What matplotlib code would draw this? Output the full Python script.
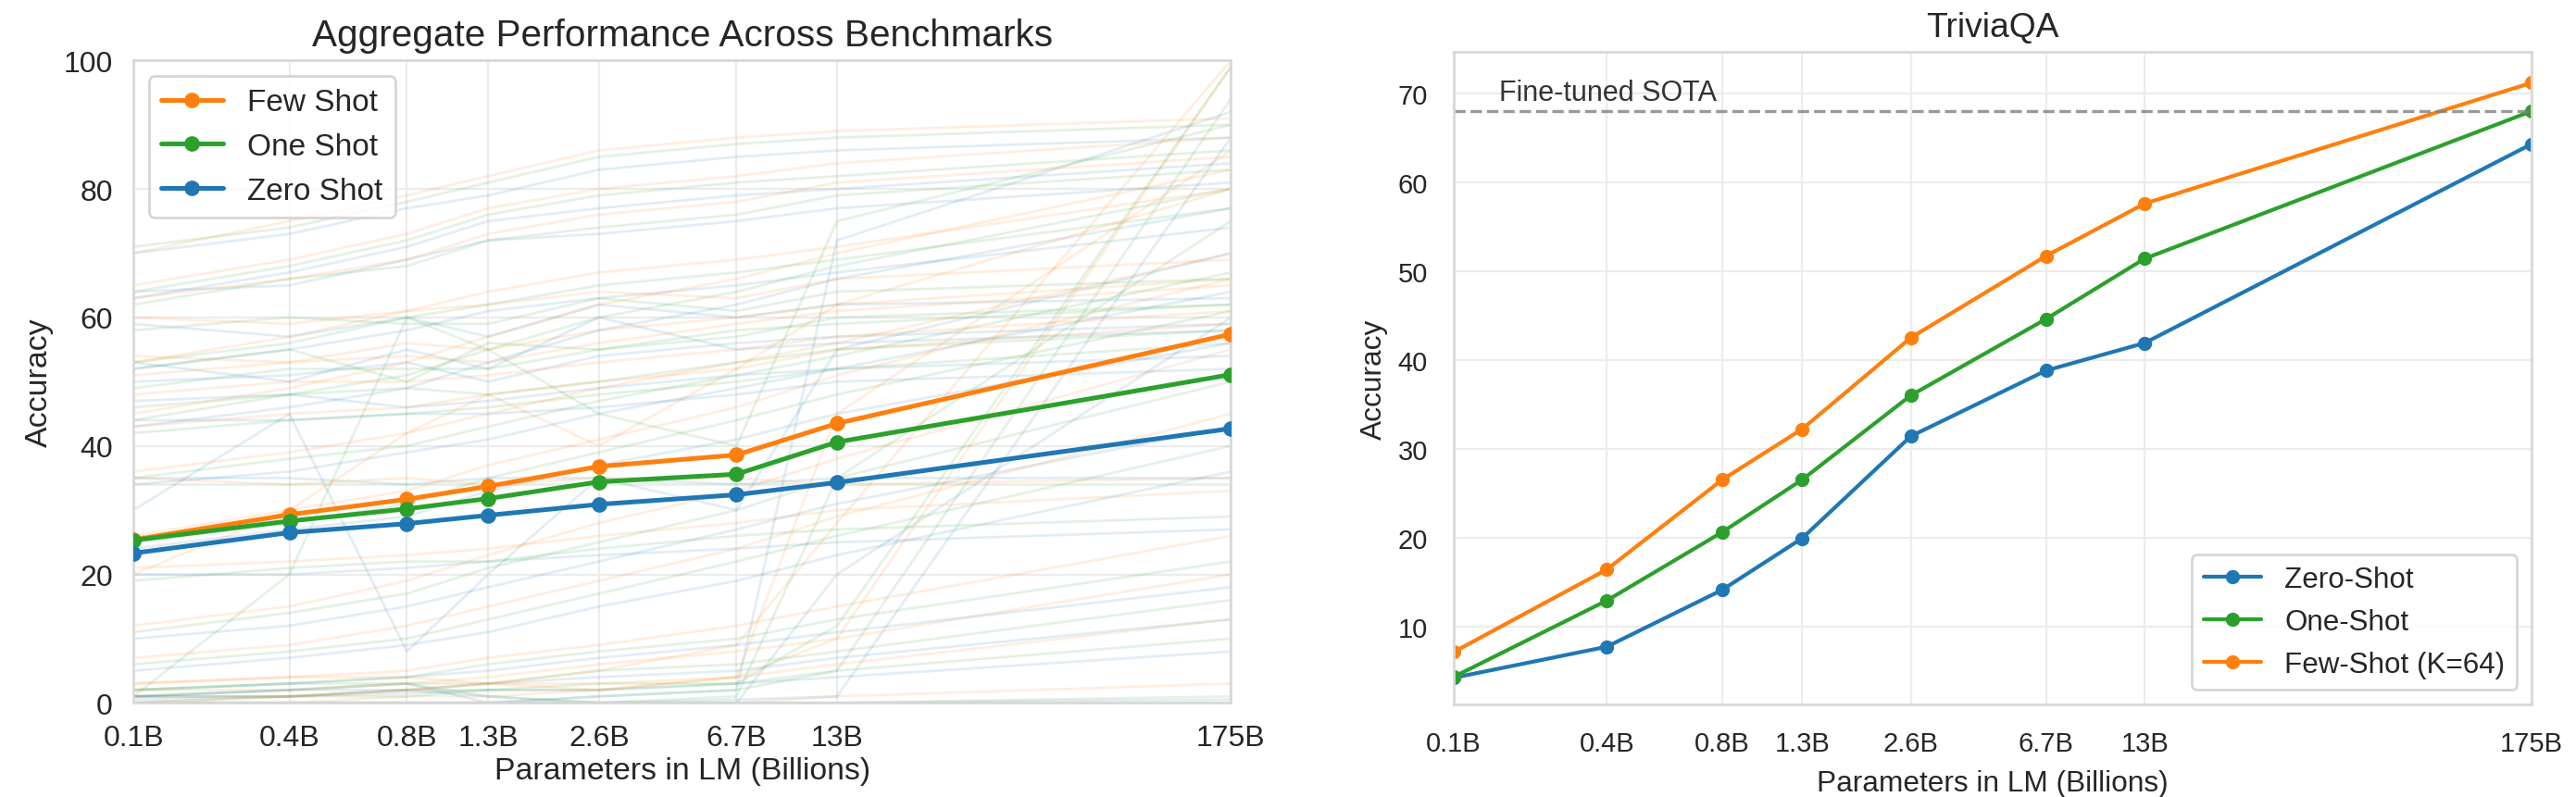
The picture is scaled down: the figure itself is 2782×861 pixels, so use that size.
import matplotlib
matplotlib.use('Agg')
import matplotlib.pyplot as plt
from matplotlib.ticker import NullLocator
import seaborn as sns

sns.set_theme(style='whitegrid')
plt.rcParams['font.family'] = ['Liberation Sans', 'DejaVu Sans']

# model sizes (billions) and their labels
params = [0.125, 0.35, 0.76, 1.3, 2.7, 6.7, 13, 175]
param_labels = ['0.1B', '0.4B', '0.8B', '1.3B', '2.6B', '6.7B', '13B', '175B']

# aggregate (left)
agg_few = [25.4, 29.3, 31.7, 33.7, 36.8, 38.6, 43.5, 57.4]
agg_one = [25.3, 28.3, 30.2, 31.8, 34.4, 35.6, 40.6, 51.1]
agg_zero = [23.3, 26.5, 27.9, 29.2, 30.9, 32.4, 34.3, 42.7]

# per-benchmark curves drawn faintly behind the aggregate
bench_zero = [
    [70, 73, 77, 79, 83, 85, 86, 88],
    [63, 67, 71, 75, 77, 79, 80, 84],
    [64, 65, 69, 72, 73, 75, 77, 81],
    [52, 55, 58, 61, 63, 65, 67, 74],
    [43, 46, 49, 53, 58, 62, 66, 77],
    [34, 36, 39, 41, 45, 49, 52, 64],
    [50, 51, 53, 50, 54, 56, 57, 59],
    [59, 57, 60, 57, 62, 60, 62, 63],
    [35, 35, 34, 35, 35, 34, 35, 35],
    [53, 50, 55, 52, 60, 55, 56, 58],
    [47, 48, 46, 47, 49, 51, 52, 54],
    [44, 44, 45, 45, 46, 48, 50, 52],
    [24, 27, 29, 33, 37, 41, 45, 56],
    [20, 20, 21, 22, 23, 24, 25, 27],
    [10, 12, 15, 18, 22, 27, 31, 43],
    [5, 7, 9, 11, 15, 19, 23, 36],
    [2, 3, 4, 5, 7, 9, 11, 18],
    [1, 2, 2, 3, 4, 5, 7, 13],
    [0.5, 1, 1.5, 2, 2, 3, 4, 8],
    [0, 0, 0, 0, 0, 0, 0, 0.5],
    [0, 0, 0, 0, 0, 0.5, 1, 88],
    [1, 1, 2, 1, 0, 0, 20, 60],
    [30, 45, 8, 20, 35, 30, 55, 70],
    [1, 2, 3, 0, 1, 2, 72, 92],
]
bench_one = [
    [71, 74, 78, 81, 85, 87, 88, 90],
    [64, 68, 72, 76, 79, 81, 82, 86],
    [62, 66, 68, 72, 74, 76, 79, 83],
    [53, 56, 60, 62, 65, 67, 69, 77],
    [44, 48, 51, 55, 60, 64, 68, 80],
    [35, 38, 40, 43, 47, 51, 54, 67],
    [49, 52, 52, 52, 55, 58, 59, 62],
    [58, 60, 59, 59, 63, 61, 64, 66],
    [34, 34, 34, 34, 34, 34, 34, 34],
    [52, 55, 50, 56, 55, 57, 60, 62],
    [46, 48, 49, 48, 50, 53, 55, 58],
    [42, 44, 45, 46, 48, 50, 52, 56],
    [25, 28, 31, 35, 39, 44, 48, 61],
    [19, 21, 22, 22, 24, 26, 27, 29],
    [11, 14, 17, 21, 25, 30, 35, 50],
    [6, 8, 10, 13, 17, 22, 26, 40],
    [2, 3, 4, 6, 8, 10, 13, 22],
    [1, 2, 3, 3, 5, 6, 8, 16],
    [1, 1, 2, 2, 3, 3, 5, 10],
    [0, 0, 0, 0, 0, 0, 0, 1],
    [0, 0, 0, 0, 1, 2, 5, 94],
    [2, 3, 3, 1, 0, 1, 35, 75],
    [1, 20, 60, 55, 45, 40, 75, 90],
    [0, 1, 1, 2, 2, 3, 12, 99],
]
bench_few = [
    [70, 75, 79, 82, 86, 88, 89, 91],
    [65, 69, 73, 77, 80, 82, 84, 88],
    [63, 66, 69, 73, 76, 78, 81, 85],
    [53, 57, 61, 64, 67, 69, 71, 80],
    [45, 49, 53, 57, 62, 66, 70, 83],
    [36, 39, 42, 45, 49, 53, 56, 70],
    [51, 53, 54, 53, 56, 59, 61, 65],
    [60, 59, 61, 62, 64, 63, 66, 69],
    [35, 34, 35, 34, 35, 35, 34, 35],
    [54, 53, 56, 55, 58, 60, 62, 66],
    [48, 50, 50, 51, 53, 55, 57, 61],
    [43, 45, 46, 48, 50, 52, 55, 59],
    [26, 30, 33, 37, 41, 46, 51, 66],
    [21, 22, 23, 24, 26, 28, 30, 33],
    [12, 15, 19, 23, 28, 33, 38, 55],
    [7, 9, 12, 15, 19, 24, 29, 45],
    [3, 4, 5, 7, 9, 12, 15, 26],
    [2, 2, 3, 4, 6, 8, 10, 20],
    [1, 1, 2, 3, 3, 4, 6, 13],
    [0, 0, 0, 0, 0, 0, 1, 3],
    [0, 0, 1, 1, 2, 4, 10, 99],
    [3, 4, 4, 3, 2, 4, 45, 86],
    [20, 30, 42, 48, 40, 52, 62, 80],
    [0, 1, 2, 3, 5, 9, 28, 100],
]

# TriviaQA (right)
tqa_zero = [4.2, 7.7, 14.1, 19.9, 31.4, 38.8, 41.9, 64.3]
tqa_one = [4.3, 12.9, 20.6, 26.5, 36.0, 44.6, 51.4, 68.0]
tqa_few = [7.1, 16.4, 26.5, 32.2, 42.5, 51.7, 57.6, 71.2]
sota = 68.0

BLUE, ORANGE, GREEN = '#1f77b4', '#ff7f0e', '#2ca02c'

fig = plt.figure(figsize=(13.91, 4.31), dpi=200)
ax1 = fig.add_axes([0.0518, 0.118, 0.426, 0.805])
ax2 = fig.add_axes([0.5643, 0.116, 0.4184, 0.818])

for ax in (ax1, ax2):
    ax.grid(True, color='#ececec', lw=0.8)
    for s in ax.spines.values():
        s.set_color('#d8d8d8')
        s.set_linewidth(1.0)

# ---- left panel ----
for rows, col in ((bench_zero, BLUE), (bench_one, GREEN), (bench_few, ORANGE)):
    for r in rows:
        ax1.plot(params, r, color=col, alpha=0.13, lw=1.0, zorder=1)

ax1.plot(params, agg_few, '-o', color=ORANGE, lw=1.8, ms=5, label='Few Shot', zorder=3)
ax1.plot(params, agg_one, '-o', color=GREEN, lw=1.8, ms=5, label='One Shot', zorder=3)
ax1.plot(params, agg_zero, '-o', color=BLUE, lw=1.8, ms=5, label='Zero Shot', zorder=3)

ax1.set_xscale('log')
ax1.set_xlim(params[0], params[-1])
ax1.set_ylim(0, 100)
ax1.set_xticks(params)
ax1.set_xticklabels(param_labels)
ax1.xaxis.set_minor_locator(NullLocator())
ax1.tick_params(axis='both', labelsize=11.5, pad=2)
ax1.set_xlabel('Parameters in LM (Billions)', fontsize=12.2, labelpad=2)
ax1.set_ylabel('Accuracy', fontsize=12.2)
ax1.set_title('Aggregate Performance Across Benchmarks', fontsize=14.6, pad=6)
ax1.legend(loc='upper left', fontsize=12, frameon=True)

# ---- right panel ----
ax2.plot(params, tqa_zero, '-o', color=BLUE, lw=1.5, ms=4.5, label='Zero-Shot')
ax2.plot(params, tqa_one, '-o', color=GREEN, lw=1.5, ms=4.5, label='One-Shot')
ax2.plot(params, tqa_few, '-o', color=ORANGE, lw=1.5, ms=4.5, label='Few-Shot (K=64)')
ax2.axhline(sota, color='gray', ls='--', lw=1.2, alpha=0.8)
ax2.text(0.17, sota + 0.5, 'Fine-tuned SOTA', fontsize=11, color='#333333', va='bottom')

ax2.set_xscale('log')
ax2.set_xlim(params[0], params[-1])
ax2.set_ylim(1.2, 74.7)
ax2.set_xticks(params)
ax2.set_xticklabels(param_labels)
ax2.xaxis.set_minor_locator(NullLocator())
ax2.set_yticks([10, 20, 30, 40, 50, 60, 70])
ax2.tick_params(axis='both', labelsize=10.5, pad=4)
ax2.set_xlabel('Parameters in LM (Billions)', fontsize=11.4, labelpad=5)
ax2.set_ylabel('Accuracy', fontsize=11.4)
ax2.set_title('TriviaQA', fontsize=13.4, pad=6)
ax2.legend(loc='lower right', fontsize=11.3, frameon=True)

fig.savefig('out.png', dpi=200)
